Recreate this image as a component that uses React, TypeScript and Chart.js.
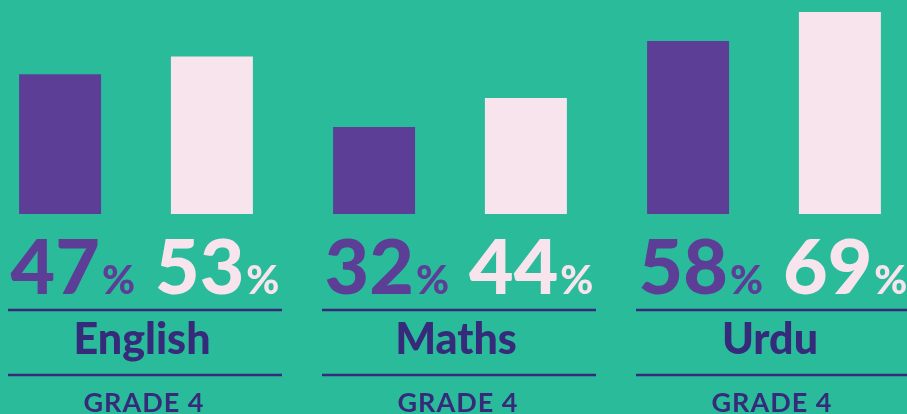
import React, { useEffect, useRef } from "react";
import { Chart, registerables } from "chart.js";

Chart.register(...registerables);

const subjects = ["English", "Maths", "Urdu"];
const gradeLabel = "GRADE 4";
// bar heights as drawn in the picture
const purpleBars = [47, 29.3, 58.2];
const pinkBars = [53, 39, 68];
// percentages printed under the bars
const purpleLabels = [47, 32, 58];
const pinkLabels = [53, 44, 69];

const TEAL = "#2abb9b";
const PURPLE = "#5c3e97";
const PINK = "#f8e4ec";
const DARK = "#362b7a";
const FONT = "Lato, 'Open Sans', sans-serif";

const W = 907;
const H = 414;

const decorPlugin = {
  id: "decor",
  beforeDraw(chart: any) {
    const ctx = chart.ctx;
    ctx.save();
    ctx.fillStyle = TEAL;
    ctx.fillRect(0, 0, chart.width, chart.height);
    ctx.restore();
  },
  afterDraw(chart: any) {
    const ctx = chart.ctx;
    const m0 = chart.getDatasetMeta(0).data;
    const m1 = chart.getDatasetMeta(1).data;
    ctx.save();
    for (let i = 0; i < subjects.length; i++) {
      const cx = (m0[i].x + m1[i].x) / 2 + 9;
      // percentages
      const bigFont = `900 77px ${FONT}`;
      const smallFont = `900 40px ${FONT}`;
      const n1 = String(purpleLabels[i]);
      const n2 = String(pinkLabels[i]);
      ctx.font = bigFont;
      const w1 = ctx.measureText(n1).width;
      const w2 = ctx.measureText(n2).width;
      ctx.font = smallFont;
      const wp = ctx.measureText("%").width;
      const sp = 2;
      const gap = 20;
      const total = w1 + sp + wp + gap + w2 + sp + wp;
      let x = cx - total / 2;
      const base = 294;
      ctx.textBaseline = "alphabetic";
      ctx.textAlign = "left";
      ctx.fillStyle = PURPLE;
      ctx.font = bigFont;
      ctx.fillText(n1, x, base);
      x += w1 + sp;
      ctx.font = smallFont;
      ctx.fillText("%", x, base);
      x += wp + gap;
      ctx.fillStyle = PINK;
      ctx.font = bigFont;
      ctx.fillText(n2, x, base);
      x += w2 + sp;
      ctx.font = smallFont;
      ctx.fillText("%", x, base);

      // lines
      ctx.strokeStyle = DARK;
      ctx.lineWidth = 2.5;
      [310, 375].forEach((y) => {
        ctx.beginPath();
        ctx.moveTo(cx - 137, y);
        ctx.lineTo(cx + 137, y);
        ctx.stroke();
      });

      // subject
      ctx.fillStyle = DARK;
      ctx.textAlign = "center";
      ctx.font = `900 43px ${FONT}`;
      ctx.fillText(subjects[i], cx - 3, 354);

      // grade
      ctx.font = `bold 27px ${FONT}`;
      (ctx as any).letterSpacing = "1px";
      ctx.fillText(gradeLabel, cx - 1, 412);
      (ctx as any).letterSpacing = "0px";
    }
    ctx.restore();
  },
};

export default function App() {
  const ref = useRef<HTMLCanvasElement | null>(null);
  useEffect(() => {
    document.body.style.margin = "0";
    const canvas = ref.current;
    if (!canvas) return;
    const chart = new Chart(canvas, {
      type: "bar",
      data: {
        labels: subjects,
        datasets: [
          {
            data: purpleBars,
            backgroundColor: PURPLE,
            borderWidth: 0,
            categoryPercentage: 0.967,
            barPercentage: 0.54,
            clip: false,
          } as any,
          {
            data: pinkBars,
            backgroundColor: PINK,
            borderWidth: 0,
            categoryPercentage: 0.967,
            barPercentage: 0.54,
            clip: false,
          } as any,
        ],
      },
      options: {
        animation: false,
        responsive: false,
        maintainAspectRatio: false,
        devicePixelRatio: 1,
        layout: { padding: { left: 136, right: 143, top: 0, bottom: 200 } },
        scales: {
          x: { display: false, offset: false },
          y: { display: false, min: 0, max: 72 },
        },
        plugins: {
          legend: { display: false },
          tooltip: { enabled: false },
        },
      },
      plugins: [decorPlugin],
    });
    return () => chart.destroy();
  }, []);
  return (
    <canvas
      ref={ref}
      width={W}
      height={H}
      style={{ display: "block", width: W, height: H }}
    />
  );
}
